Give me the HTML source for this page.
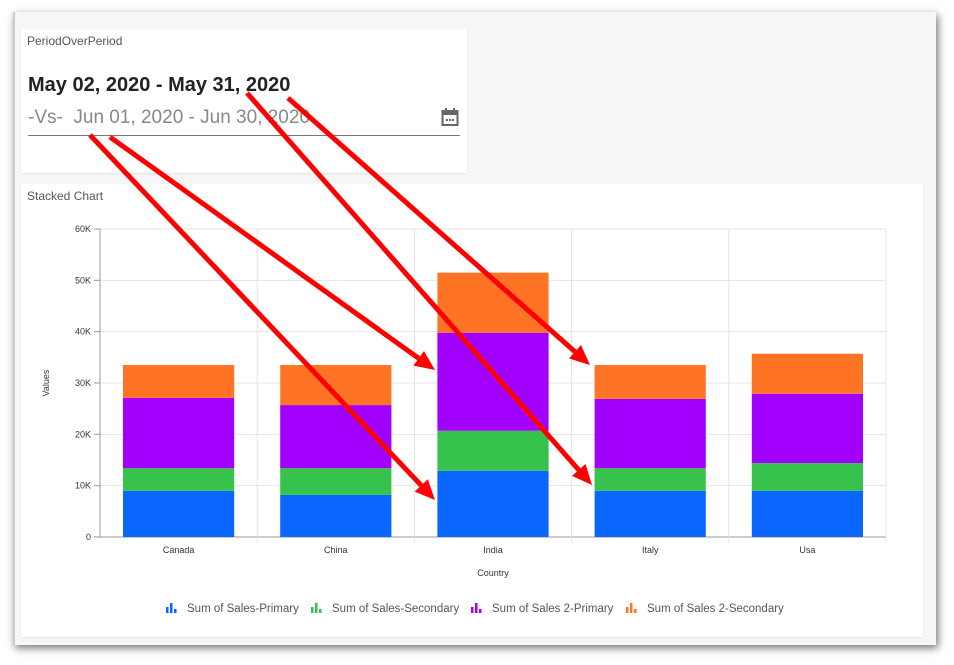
<!DOCTYPE html>
<html><head><meta charset="utf-8"><style>
body{margin:0;width:954px;height:665px;background:#fff;font-family:"Liberation Sans",sans-serif;position:relative;overflow:hidden}
#win{position:absolute;left:13px;top:12px;width:921px;height:633px;background:#f6f6f6;box-shadow:2px 3px 8px rgba(0,0,0,.55);border-left:2px solid #ccc}
.card{position:absolute;background:#fff;box-shadow:0 1px 2px rgba(0,0,0,.08)}
</style></head><body>
<div id="win"></div>
<div class="card" style="left:21px;top:29px;width:446px;height:144px">
<div style="position:absolute;left:6px;top:5px;font-size:12px;color:#555">PeriodOverPeriod</div>
<div style="position:absolute;left:7px;top:45px;font-size:20px;font-weight:bold;color:#222">May 02, 2020 - May 31, 2020</div>
<div style="position:absolute;left:7px;top:78px;font-size:19px;color:#888">-Vs-&nbsp; Jun 01, 2020 - Jun 30, 2020</div>
<svg style="position:absolute;left:420px;top:78px" width="18" height="20"><rect x="1.5" y="4" width="15" height="14" fill="none" stroke="#666" stroke-width="2"/><rect x="1.5" y="4" width="15" height="4" fill="#666"/><rect x="4" y="1" width="2" height="4" fill="#666"/><rect x="12" y="1" width="2" height="4" fill="#666"/><rect x="5" y="12" width="2" height="2" fill="#666"/><rect x="8" y="12" width="2" height="2" fill="#666"/><rect x="11" y="12" width="2" height="2" fill="#666"/></svg>
<div style="position:absolute;left:7px;top:106px;width:432px;height:1px;background:#777"></div>
</div>
<div class="card" style="left:21px;top:184px;width:902px;height:453px">
<div style="position:absolute;left:6px;top:5px;font-size:12px;color:#555">Stacked Chart</div>
</div>
<svg id="chart" width="954" height="665" style="position:absolute;left:0;top:0"></svg>
<script>
const categories=["Canada","China","India","Italy","Usa"];
const salesPrimary=[9000,8200,12900,9000,9000];
const salesSecondary=[4400,5200,7800,4400,5400];
const sales2Primary=[13700,12300,19100,13500,13500];
const sales2Secondary=[6400,7800,11700,6600,7800];
const yTicks=[0,10000,20000,30000,40000,50000,60000];
const yTickLabels=["0","10K","20K","30K","40K","50K","60K"];
const seriesNames=["Sum of Sales-Primary","Sum of Sales-Secondary","Sum of Sales 2-Primary","Sum of Sales 2-Secondary"];
const colors=["#0a66ff","#36c24d","#a100ff","#ff7424"];
const NS="http://www.w3.org/2000/svg";
const svg=document.getElementById('chart');
const X0=100,X1=886,Y0=537,Y1=229,YMAX=60000;
const bw=(X1-X0)/categories.length;
const y=v=>Y0-(v/YMAX)*(Y0-Y1);
const x=i=>X0+i*bw;
function mk(t,a){const e=document.createElementNS(NS,t);for(const k in a)e.setAttribute(k,a[k]);svg.appendChild(e);return e;}
yTicks.forEach((v,i)=>{
 const g=mk('line',{x1:X0,x2:X1,y1:y(v),y2:y(v),stroke:i==0?'#999':'#e4e4e4'});
 
 
 const tk=mk('line',{x1:X0-6,x2:X0,y1:y(v),y2:y(v),stroke:'#999'});
 
 
 const t=mk('text',{x:X0-9,y:y(v)+3,'text-anchor':'end','font-size':9,fill:'#333'});t.textContent=yTickLabels[i];
 
 
});
for(let i=0;i<=categories.length;i++){
 const l=mk('line',{x1:x(i),x2:x(i),y1:Y1,y2:Y0+(i==0?0:6),stroke:i==0?'#999':'#e4e4e4'});
 
 
}
const series=[salesPrimary,salesSecondary,sales2Primary,sales2Secondary];
categories.forEach((c,i)=>{
 let base=0;
 series.forEach((s,k)=>{
  const r=mk('rect',{x:x(i)+23,width:bw-46,y:y(base+s[i]),height:y(base)-y(base+s[i]),fill:colors[k]});
  
  
  base+=s[i];
 });
 const t=mk('text',{x:x(i)+bw/2,y:553,'text-anchor':'middle','font-size':9,fill:'#333'});t.textContent=c;
 
 
});
let t=mk('text',{x:493,y:576,'text-anchor':'middle','font-size':9,fill:'#333'});t.textContent='Country';


t=mk('text',{x:49,y:383,'text-anchor':'middle','font-size':9,fill:'#333',transform:'rotate(-90 49 383)'});t.textContent='Values';


const lx=[166,311,471,626];
seriesNames.forEach((n,k)=>{
 const g=document.createElementNS(NS,'g');svg.appendChild(g);
 
 
 [[0,6],[4,10],[8,4]].forEach(([dx,h])=>{const r=document.createElementNS(NS,'rect');r.setAttribute('x',lx[k]+dx);r.setAttribute('y',613-h);r.setAttribute('width',2.5);r.setAttribute('height',h);r.setAttribute('fill',colors[k]);g.appendChild(r);});
 const tt=document.createElementNS(NS,'text');tt.setAttribute('x',lx[k]+21);tt.setAttribute('y',612);tt.setAttribute('font-size',11.5);tt.setAttribute('fill','#555');tt.textContent=n;g.appendChild(tt);
});
const arrows=[[90,135,435,500],[110,137,435,370],[247,93,592,485],[288,98,590,365]];
arrows.forEach(a=>{
 const [x1,y1,x2,y2]=a;const ang=Math.atan2(y2-y1,x2-x1),L=20,W=9;
 const bx=x2-L*Math.cos(ang),by=y2-L*Math.sin(ang);
 const l=mk('line',{x1,y1,x2:bx,y2:by,stroke:'#f00','stroke-width':5});
 
 
 const p=mk('polygon',{points:`${x2},${y2} ${bx+W*Math.sin(ang)},${by-W*Math.cos(ang)} ${bx-W*Math.sin(ang)},${by+W*Math.cos(ang)}`,fill:'#f00'});
 
 
});
</script>
</body></html>
